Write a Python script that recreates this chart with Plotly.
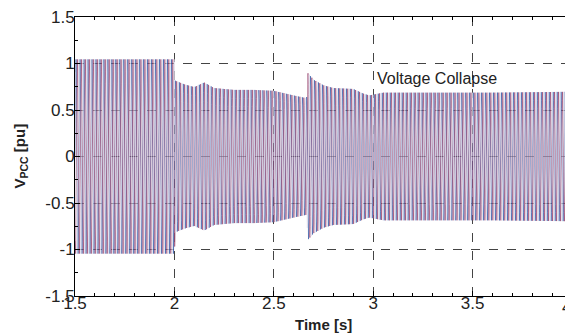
import numpy as np
import plotly.graph_objects as go

# Envelope of the PCC voltage (peak, pu)
env_time = [1.5, 2.0, 2.004, 2.05, 2.1, 2.15, 2.2, 2.3, 2.4, 2.5, 2.6, 2.665,
            2.672, 2.7, 2.75, 2.8, 2.9, 2.95, 2.98, 3.05, 3.3, 3.6, 4.0]
env_amp = [1.05, 1.05, 0.82, 0.78, 0.75, 0.80, 0.74, 0.72, 0.72, 0.71, 0.66, 0.63,
           0.90, 0.83, 0.77, 0.74, 0.73, 0.68, 0.66, 0.69, 0.69, 0.69, 0.70]
freq_hz = 50
phase_shifts_deg = [0, -120, 120]
phase_names = ["Va", "Vb", "Vc"]
phase_colors = ["#3f62ab", "#9c4b72", "#dcdae8"]

x_tickvals = [1.5, 2, 2.5, 3, 3.5, 4]
x_ticktext = ["1.5", "2", "2.5", "3", "3.5", "4"]
y_tickvals = [-1.5, -1, -0.5, 0, 0.5, 1, 1.5]
y_ticktext = ["-1.5", "-1", "-0.5", "0", "0.5", "1", "1.5"]

n_pts = int(2.5 * freq_hz * 30) + 1
t = np.linspace(1.5, 4.0, n_pts)
amp = np.interp(t, env_time, env_amp)

fig = go.Figure()
for name, ph, col in zip(phase_names, phase_shifts_deg, phase_colors):
    v = amp * np.sin(2 * np.pi * freq_hz * t + np.deg2rad(ph))
    fig.add_trace(go.Scatter(x=t, y=v, mode="lines", name=name,
                             line=dict(color=col, width=0.7), showlegend=False))

fig.add_annotation(x=3.01, y=0.84, xref="x", yref="y", text="Voltage Collapse",
                   showarrow=False, xanchor="left", yanchor="middle",
                   font=dict(size=16, color="#222"))
fig.add_annotation(x=0.5, y=0, xref="paper", yref="paper", text="<b>Time [s]</b>",
                   showarrow=False, xanchor="center", yanchor="top", yshift=-18,
                   font=dict(size=15, color="#222"))
fig.add_annotation(x=0, y=0.5, xref="paper", yref="paper", text="<b>V<sub>PCC</sub> [pu]</b>",
                   showarrow=False, xanchor="center", yanchor="middle", xshift=-55,
                   textangle=-90, font=dict(size=15, color="#222"))
# last x tick label sits on the right edge of the page; draw it explicitly
fig.add_annotation(x=1.0, y=0, xref="paper", yref="paper", text=x_ticktext[-1],
                   showarrow=False, xanchor="right", yanchor="top", xshift=1, yshift=0,
                   font=dict(size=17, color="#222"))

axis_common = dict(showline=True, linecolor="black", linewidth=1, mirror="ticks",
                   ticks="inside", ticklen=5, tickcolor="black",
                   showgrid=True, gridcolor="#444", griddash="dash", gridwidth=1,
                   zeroline=False, tickfont=dict(size=17, color="#222"),
                   automargin=False, ticklabeloverflow="allow")

fig.update_xaxes(range=[1.5, 4.0], tickvals=x_tickvals,
                 ticktext=x_ticktext[:-1] + [""],
                 minor=dict(dtick=0.1, ticks="inside", ticklen=3, tickcolor="black", showgrid=False),
                 ticklabelstandoff=-8, **axis_common)
fig.update_yaxes(range=[-1.5, 1.5], tickvals=y_tickvals, ticktext=y_ticktext,
                 minor=dict(dtick=0.25, ticks="inside", ticklen=3, tickcolor="black", showgrid=False),
                 ticklabelstandoff=-4, **axis_common)

fig.update_layout(width=565, height=326, margin=dict(l=67, r=1, t=9, b=38),
                  plot_bgcolor="white", paper_bgcolor="white",
                  font=dict(family="Liberation Sans, Arial, sans-serif"))

fig.write_html("out.html")
